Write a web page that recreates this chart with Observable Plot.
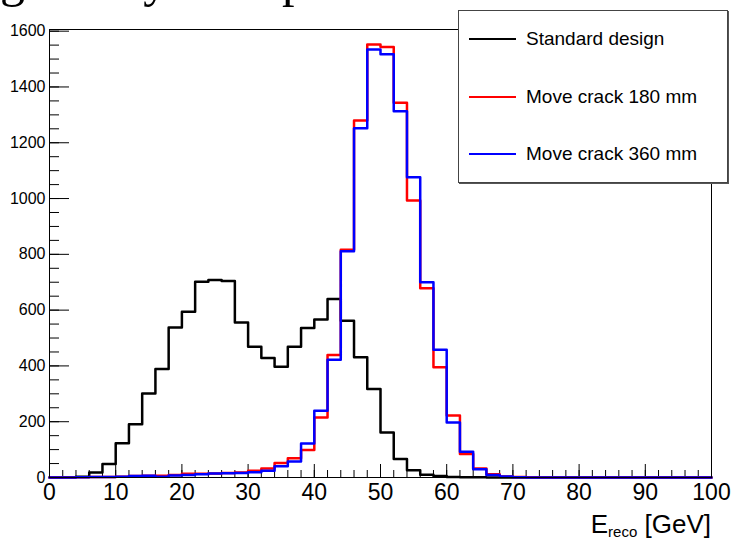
<!DOCTYPE html>
<html>
<head>
<meta charset="utf-8">
<script src="https://cdn.jsdelivr.net/npm/d3@7"></script>
<script src="https://cdn.jsdelivr.net/npm/@observablehq/plot@0.6"></script>
<style>
  html, body { margin: 0; padding: 0; background: #fff; width: 734px; height: 541px; overflow: hidden; }
  #wrap { position: relative; width: 734px; height: 541px; overflow: hidden; font-family: "Liberation Sans", Arial, Helvetica, sans-serif; }
  #chart { position: absolute; left: 0; top: 0; }
  #title { position: absolute; left: -122px; top: -46px; font-family: "Liberation Serif", "Times New Roman", serif; font-size: 50px; line-height: 50px; white-space: nowrap; color: #000; }
  #legend { position: absolute; left: 458px; top: 10px; width: 268px; height: 171px; border: 1px solid #444; background: #fff; box-shadow: 1px 1px 0 #555; }
  .row { position: absolute; left: 0; height: 24px; width: 268px; }
  .row svg { position: absolute; left: 10px; top: 0; }
  .row span { position: absolute; left: 67px; top: 0; font-size: 19px; line-height: 24px; white-space: nowrap; color: #000; }
  #xtitle { position: absolute; right: 23px; top: 511px; font-size: 26px; line-height: 26px; white-space: nowrap; color: #000; }
  #xtitle sub { font-size: 15px; vertical-align: -4px; line-height: 0; }
</style>
</head>
<body>
<div id="wrap">
  <div id="chart"></div>
  <div id="title">Leakage study with pions</div>
  <div id="legend"></div>
  <div id="xtitle">E<sub>reco</sub> [GeV]</div>
</div>
<script>
// ---- data (2 GeV bins from 0 to 100) ----
const binLow = [0,2,4,6,8,10,12,14,16,18,20,22,24,26,28,30,32,34,36,38,40,42,44,46,48,
                50,52,54,56,58,60,62,64,66,68,70,72,74,76,78,80,82,84,86,88,90,92,94,96,98];
const binHigh = 100;

const seriesNames = ["Standard design", "Move crack 180 mm", "Move crack 360 mm"];
const seriesColors = ["#000000", "#ff0000", "#0000ff"];

const standardDesign = [0,1,3,18,48,123,191,301,389,538,594,702,708,704,556,469,428,397,469,536,
                        566,640,562,431,317,161,66,26,10,5,2,1,1,0,0,0,0,0,0,0,
                        0,0,0,0,0,0,0,0,0,0];
const moveCrack180 = [0,0,1,2,2,3,5,6,6,9,13,13,14,16,18,24,32,52,69,99,
                      215,439,816,1280,1552,1543,1343,993,678,395,222,84,32,12,4,2,1,0,0,0,
                      0,0,0,0,0,0,0,0,0,0];
const moveCrack360 = [0,0,1,2,2,3,5,6,3,7,9,12,14,15,16,19,24,40,57,122,
                      239,422,811,1252,1534,1517,1313,1076,700,458,197,92,30,9,4,1,0,0,0,0,
                      0,0,0,0,0,0,0,0,0,0];

const xMajorTicks = [0,10,20,30,40,50,60,70,80,90,100];
const yMajorTicks = [0,200,400,600,800,1000,1200,1400,1600];
const xMinorTicks = d3.range(0, 101, 2);
const yMinorTicks = d3.range(0, 1601, 50);

// ---- build table ----
const seriesValues = [standardDesign, moveCrack180, moveCrack360];
const rows = [];
seriesNames.forEach((name, k) => {
  const vals = seriesValues[k];
  binLow.forEach((x, i) => rows.push({x, y: vals[i], s: name}));
  rows.push({x: binHigh, y: vals[vals.length - 1], s: name});
});

// ---- layout ----
const W = 734, H = 541;
const mL = 49, mR = 23, mT = 29, mB = 64;
const frameW = W - mL - mR, frameH = H - mT - mB;

const chart = Plot.plot({
  width: W, height: H,
  marginLeft: mL, marginRight: mR, marginTop: mT, marginBottom: mB,
  style: { fontFamily: '"Liberation Sans", Arial, Helvetica, sans-serif', background: "white", color: "black" },
  x: { domain: [0, 100] },
  y: { domain: [0, 1606] },
  color: { domain: seriesNames, range: seriesColors },
  marks: [
    Plot.tickX(xMinorTicks, { x: d => d, insetTop: frameH - 7, stroke: "#000", strokeWidth: 1 }),
    Plot.tickX(xMajorTicks, { x: d => d, insetTop: frameH - 13, stroke: "#000", strokeWidth: 1 }),
    Plot.tickY(yMinorTicks, { y: d => d, insetRight: frameW - 10, stroke: "#000", strokeWidth: 1 }),
    Plot.tickY(yMajorTicks, { y: d => d, insetRight: frameW - 20, stroke: "#000", strokeWidth: 1 }),
    Plot.line(rows, { x: "x", y: "y", z: "s", stroke: "s", curve: "step-after", strokeWidth: 2.5 }),
    Plot.frame({ stroke: "#000", strokeWidth: 1 }),
    Plot.axisX({ ticks: xMajorTicks, tickSize: 0, tickPadding: 6, fontSize: 23, label: null, tickFormat: d => String(d) }),
    Plot.axisY({ ticks: yMajorTicks, tickSize: 0, tickPadding: 4, fontSize: 16, label: null, tickFormat: d => String(d) })
  ]
});
document.getElementById("chart").appendChild(chart);

// ---- legend ----
const legend = document.getElementById("legend");
const rowTops = [16, 74, 131];
seriesNames.forEach((name, k) => {
  const r = document.createElement("div");
  r.className = "row";
  r.style.top = rowTops[k] + "px";
  r.innerHTML = `<svg width="48" height="24"><line x1="0" x2="47" y1="12" y2="12" stroke="${seriesColors[k]}" stroke-width="2"/></svg><span>${name}</span>`;
  legend.appendChild(r);
});
</script>
</body>
</html>
